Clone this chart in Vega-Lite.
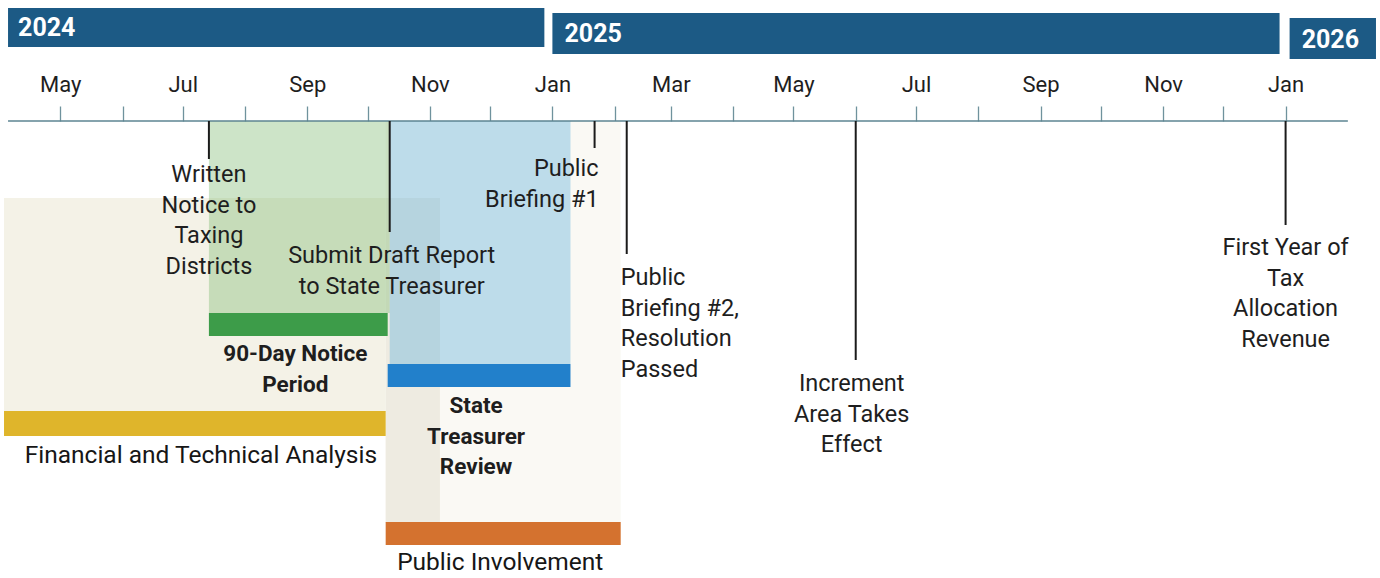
{
  "$schema": "https://vega.github.io/schema/vega-lite/v6.json",
  "width": 1380,
  "height": 578,
  "autosize": {"type": "none"},
  "padding": 0,
  "background": "#ffffff",
  "config": {"view": {"stroke": null}, "font": "Roboto"},
  "datasets": {
    "years": [
      {"label": "2024", "date": "2024-04-05", "date2": "2024-12-28", "level": 8, "level2": 47},
      {"label": "2025", "date": "2025-01-01", "date2": "2025-12-29", "level": 13, "level2": 54},
      {"label": "2026", "date": "2026-01-03", "date2": "2026-02-15", "level": 18, "level2": 59}
    ],
    "yearLabels": [
      {"label": "2024", "date": "2024-04-10", "level": 28},
      {"label": "2025", "date": "2025-01-07", "level": 34},
      {"label": "2026", "date": "2026-01-09", "level": 40}
    ],
    "backdrops": [
      {"part": "Public Involvement", "date": "2024-10-10", "date2": "2025-02-04", "level": 121, "level2": 523},
      {"part": "Financial and Technical Analysis", "date": "2024-04-03", "date2": "2024-10-10", "level": 198, "level2": 412},
      {"part": "Overlap", "date": "2024-10-10", "date2": "2024-11-06", "level": 198, "level2": 523}
    ],
    "tints": [
      {"part": "90-Day Notice Period", "date": "2024-07-14", "date2": "2024-10-12", "level": 121, "level2": 313},
      {"part": "State Treasurer Review", "date": "2024-10-12", "date2": "2025-01-10", "level": 121, "level2": 364}
    ],
    "bars": [
      {"phase": "Financial and Technical Analysis", "date": "2024-04-03", "date2": "2024-10-10", "level": 411, "level2": 436},
      {"phase": "90-Day Notice Period", "date": "2024-07-14", "date2": "2024-10-11", "level": 313, "level2": 336},
      {"phase": "State Treasurer Review", "date": "2024-10-11", "date2": "2025-01-10", "level": 364, "level2": 387},
      {"phase": "Public Involvement", "date": "2024-10-10", "date2": "2025-02-04", "level": 522, "level2": 545}
    ],
    "axisLine": [
      {"date": "2024-04-05", "date2": "2026-02-01", "level": 121}
    ],
    "milestones": [
      {"event": "Written Notice to Taxing Districts", "date": "2024-07-14", "level": 121, "level2": 159},
      {"event": "Submit Draft Report to State Treasurer", "date": "2024-10-12", "level": 121, "level2": 232},
      {"event": "Public Briefing #1", "date": "2025-01-22", "level": 121, "level2": 148},
      {"event": "Public Briefing #2, Resolution Passed", "date": "2025-02-07", "level": 121, "level2": 254},
      {"event": "Increment Area Takes Effect", "date": "2025-06-01", "level": 121, "level2": 360},
      {"event": "First Year of Tax Allocation Revenue", "date": "2026-01-01", "level": 121, "level2": 225}
    ],
    "milestoneCaptions": [
      {"event": "Written Notice to Taxing Districts", "text": "Written\nNotice to\nTaxing\nDistricts", "date": "2024-07-14", "level": 175, "side": "below"},
      {"event": "Submit Draft Report to State Treasurer", "text": "Submit Draft Report\nto State Treasurer", "date": "2024-10-13", "level": 256, "side": "below"},
      {"event": "Public Briefing #1", "text": "Public\nBriefing #1", "date": "2025-01-24", "level": 169, "side": "before"},
      {"event": "Public Briefing #2, Resolution Passed", "text": "Public\nBriefing #2,\nResolution\nPassed", "date": "2025-02-04", "level": 278, "side": "after"},
      {"event": "Increment Area Takes Effect", "text": "Increment\nArea Takes\nEffect", "date": "2025-05-30", "level": 384, "side": "below"},
      {"event": "First Year of Tax Allocation Revenue", "text": "First Year of\nTax\nAllocation\nRevenue", "date": "2026-01-01", "level": 248, "side": "below"}
    ],
    "phaseCaptions": [
      {"phase": "90-Day Notice Period", "text": "90-Day Notice\nPeriod", "date": "2024-08-26", "level": 354},
      {"phase": "State Treasurer Review", "text": "State\nTreasurer\nReview", "date": "2024-11-24", "level": 406},
      {"phase": "Financial and Technical Analysis", "text": "Financial and Technical Analysis", "date": "2024-07-10", "level": 456},
      {"phase": "Public Involvement", "text": "Public Involvement", "date": "2024-12-06", "level": 563}
    ]
  },
  "encoding": {
    "x": {
      "field": "date",
      "type": "temporal",
      "scale": {"domain": [{"year": 2024, "month": 4, "date": 1}, {"year": 2026, "month": 2, "date": 17}]},
      "axis": {
        "orient": "top",
        "offset": -121,
        "domain": false,
        "grid": false,
        "title": null,
        "values": [
          {"year": 2024, "month": 5, "date": 1}, {"year": 2024, "month": 6, "date": 1}, {"year": 2024, "month": 7, "date": 1},
          {"year": 2024, "month": 8, "date": 1}, {"year": 2024, "month": 9, "date": 1}, {"year": 2024, "month": 10, "date": 1},
          {"year": 2024, "month": 11, "date": 1}, {"year": 2024, "month": 12, "date": 1},
          {"year": 2025, "month": 1, "date": 1}, {"year": 2025, "month": 2, "date": 1}, {"year": 2025, "month": 3, "date": 1},
          {"year": 2025, "month": 4, "date": 1}, {"year": 2025, "month": 5, "date": 1}, {"year": 2025, "month": 6, "date": 1},
          {"year": 2025, "month": 7, "date": 1}, {"year": 2025, "month": 8, "date": 1}, {"year": 2025, "month": 9, "date": 1},
          {"year": 2025, "month": 10, "date": 1}, {"year": 2025, "month": 11, "date": 1}, {"year": 2025, "month": 12, "date": 1},
          {"year": 2026, "month": 1, "date": 1}
        ],
        "tickSize": 15,
        "tickColor": "#6f929d",
        "tickWidth": 1.3,
        "labelExpr": "month(datum.value) % 2 == 0 ? timeFormat(datum.value, '%b') : ''",
        "labelFont": "Roboto",
        "labelFontSize": 22,
        "labelColor": "#1e1e1e",
        "labelPadding": 10,
        "labelFlush": false,
        "labelOverlap": false,
        "labelBound": false
      }
    },
    "y": {"field": "level", "type": "quantitative", "scale": {"domain": [0, 578], "reverse": true}, "axis": null}
  },
  "resolve": {"scale": {"color": "independent"}},
  "layer": [
    {
      "data": {"name": "backdrops"},
      "mark": {"type": "rect"},
      "encoding": {
        "x2": {"field": "date2"},
        "y2": {"field": "level2"},
        "color": {"field": "part", "type": "nominal", "legend": null,
          "scale": {"domain": ["Public Involvement", "Financial and Technical Analysis", "Overlap"], "range": ["#faf9f4", "#f4f2e7", "#eeebe1"]}}
      }
    },
    {
      "data": {"name": "tints"},
      "mark": {"type": "rect", "opacity": 0.4},
      "encoding": {
        "x2": {"field": "date2"},
        "y2": {"field": "level2"},
        "color": {"field": "part", "type": "nominal", "legend": null,
          "scale": {"domain": ["90-Day Notice Period", "State Treasurer Review"], "range": ["#82bb75", "#61b1dc"]}}
      }
    },
    {
      "data": {"name": "bars"},
      "mark": {"type": "rect"},
      "encoding": {
        "x2": {"field": "date2"},
        "y2": {"field": "level2"},
        "color": {"field": "phase", "type": "nominal", "legend": null,
          "scale": {"domain": ["Financial and Technical Analysis", "90-Day Notice Period", "State Treasurer Review", "Public Involvement"], "range": ["#dfb52b", "#3d9c49", "#2280cb", "#d4722f"]}}
      }
    },
    {
      "data": {"name": "years"},
      "mark": {"type": "rect", "color": "#1c5a85"},
      "encoding": {
        "x2": {"field": "date2"},
        "y2": {"field": "level2"}
      }
    },
    {
      "data": {"name": "yearLabels"},
      "mark": {"type": "text", "color": "#ffffff", "fontWeight": "bold", "fontSize": 25, "font": "Roboto", "align": "left", "baseline": "middle"},
      "encoding": {"text": {"field": "label"}}
    },
    {
      "data": {"name": "axisLine"},
      "mark": {"type": "rule", "color": "#5d8592", "strokeWidth": 1.5},
      "encoding": {"x2": {"field": "date2"}}
    },
    {
      "data": {"name": "milestones"},
      "mark": {"type": "rule", "color": "#1b1b1b", "strokeWidth": 2},
      "encoding": {"y2": {"field": "level2"}}
    },
    {
      "data": {"name": "milestoneCaptions"},
      "transform": [{"filter": "datum.side == 'below'"}],
      "mark": {"type": "text", "lineBreak": "\n", "lineHeight": 30.5, "fontSize": 23.5, "font": "Roboto", "align": "center", "baseline": "middle", "color": "#1e1e1e"},
      "encoding": {"text": {"field": "text"}}
    },
    {
      "data": {"name": "milestoneCaptions"},
      "transform": [{"filter": "datum.side == 'before'"}],
      "mark": {"type": "text", "lineBreak": "\n", "lineHeight": 30.5, "fontSize": 23.5, "font": "Roboto", "align": "right", "baseline": "middle", "color": "#1e1e1e"},
      "encoding": {"text": {"field": "text"}}
    },
    {
      "data": {"name": "milestoneCaptions"},
      "transform": [{"filter": "datum.side == 'after'"}],
      "mark": {"type": "text", "lineBreak": "\n", "lineHeight": 30.5, "fontSize": 23.5, "font": "Roboto", "align": "left", "baseline": "middle", "color": "#1e1e1e"},
      "encoding": {"text": {"field": "text"}}
    },
    {
      "data": {"name": "phaseCaptions"},
      "transform": [{"filter": "datum.phase == '90-Day Notice Period' || datum.phase == 'State Treasurer Review'"}],
      "mark": {"type": "text", "lineBreak": "\n", "lineHeight": 30.5, "fontSize": 22.5, "font": "Roboto", "fontWeight": "bold", "align": "center", "baseline": "middle", "color": "#1e1e1e"},
      "encoding": {"text": {"field": "text"}}
    },
    {
      "data": {"name": "phaseCaptions"},
      "transform": [{"filter": "datum.phase == 'Financial and Technical Analysis' || datum.phase == 'Public Involvement'"}],
      "mark": {"type": "text", "lineBreak": "\n", "lineHeight": 30.5, "fontSize": 24.5, "font": "Roboto", "fontWeight": "normal", "align": "center", "baseline": "middle", "color": "#161616"},
      "encoding": {"text": {"field": "text"}}
    }
  ]
}
